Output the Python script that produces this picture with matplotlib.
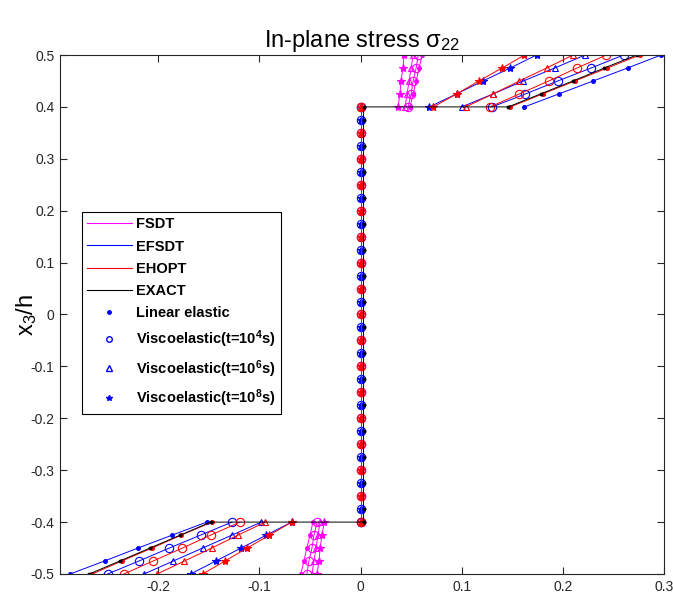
import matplotlib
matplotlib.use("Agg")
import matplotlib.pyplot as plt
from matplotlib.lines import Line2D

plt.rcParams['font.family'] = ['Liberation Sans', 'DejaVu Sans']
plt.rcParams['mathtext.fontset'] = 'custom'
plt.rcParams['mathtext.rm'] = 'Liberation Sans'
plt.rcParams['mathtext.it'] = 'Liberation Sans:italic'
plt.rcParams['mathtext.bf'] = 'Liberation Sans:bold'

# ---------------- data ----------------
case_labels = ['Linear elastic', r'Viscoelastic(t=10$\mathregular{^4}$s)',
               r'Viscoelastic(t=10$\mathregular{^6}$s)', r'Viscoelastic(t=10$\mathregular{^8}$s)']
theory_labels = ['FSDT', 'EFSDT', 'EHOPT', 'EXACT']
theory_colors = ['#FF00FF', '#0000FF', '#FF0000', '#000000']
case_markers = ['.', 'o', '^', '*']

# through-thickness positions
y_bot = [-0.5, -0.475, -0.45, -0.425, -0.4]
y_top = [0.4, 0.425, 0.45, 0.475, 0.5]
core_y_a = [-0.4, -0.35, -0.3, -0.25, -0.2, -0.15, -0.1, -0.05, 0.0,
            0.05, 0.1, 0.15, 0.2, 0.25, 0.3, 0.35, 0.4]
core_y_b = [-0.4, -0.375, -0.325, -0.275, -0.225, -0.175, -0.125, -0.075, -0.025,
            0.025, 0.075, 0.125, 0.175, 0.225, 0.275, 0.325, 0.375, 0.4]

# rows: linear elastic, t=1e4, t=1e6, t=1e8
fsdt_bot = [[-0.059, -0.056, -0.053, -0.050, -0.047],
            [-0.053, -0.051, -0.048, -0.046, -0.043],
            [-0.048, -0.046, -0.044, -0.042, -0.040],
            [-0.043, -0.041, -0.040, -0.038, -0.036]]
fsdt_top = [[0.049, 0.052, 0.055, 0.058, 0.061],
            [0.047, 0.050, 0.052, 0.055, 0.057],
            [0.044, 0.046, 0.048, 0.050, 0.052],
            [0.037, 0.039, 0.040, 0.042, 0.043]]
fsdt_core = [0.0, 0.0, 0.0, 0.0, 0.0, 0.0, 0.0, 0.0, 0.0,
             0.0, 0.0, 0.0, 0.0, 0.0, 0.0, 0.0, 0.0]

efsdt_bot = [[-0.287, -0.253, -0.220, -0.186, -0.152],
             [-0.250, -0.219, -0.189, -0.158, -0.127],
             [-0.214, -0.185, -0.156, -0.127, -0.098],
             [-0.168, -0.143, -0.118, -0.093, -0.068]]
efsdt_top = [[0.162, 0.196, 0.230, 0.264, 0.297],
             [0.130, 0.163, 0.195, 0.228, 0.260],
             [0.100, 0.131, 0.161, 0.192, 0.222],
             [0.068, 0.095, 0.121, 0.148, 0.174]]
efsdt_core = [0.0, 0.0, 0.0, 0.0, 0.0, 0.0, 0.0, 0.0, 0.0,
              0.0, 0.0, 0.0, 0.0, 0.0, 0.0, 0.0, 0.0, 0.0]

ehopt_bot = [[-0.265, -0.236, -0.206, -0.177, -0.147],
             [-0.234, -0.205, -0.176, -0.148, -0.119],
             [-0.201, -0.174, -0.147, -0.121, -0.094],
             [-0.156, -0.134, -0.112, -0.090, -0.068]]
ehopt_top = [[0.148, 0.180, 0.212, 0.244, 0.276],
             [0.128, 0.157, 0.186, 0.214, 0.243],
             [0.104, 0.131, 0.157, 0.184, 0.210],
             [0.072, 0.095, 0.117, 0.140, 0.162]]
ehopt_core = [0.0, 0.0, 0.0, 0.0, 0.0, 0.0, 0.0, 0.0, 0.0,
              0.0, 0.0, 0.0, 0.0, 0.0, 0.0, 0.0, 0.0]

exact_bot = [-0.268, -0.238, -0.208, -0.178, -0.148]
exact_top = [0.146, 0.178, 0.210, 0.241, 0.273]
exact_core = [0.003, 0.003, 0.003, 0.003, 0.003, 0.003, 0.003, 0.003, 0.003,
              0.003, 0.003, 0.003, 0.003, 0.003, 0.003, 0.003, 0.003, 0.003]

x_ticks = [-0.2, -0.1, 0.0, 0.1, 0.2, 0.3]
x_tick_labels = ['-0.2', '-0.1', '0', '0.1', '0.2', '0.3']
y_ticks = [-0.5, -0.4, -0.3, -0.2, -0.1, 0.0, 0.1, 0.2, 0.3, 0.4, 0.5]
y_tick_labels = ['-0.5', '-0.4', '-0.3', '-0.2', '-0.1', '0', '0.1', '0.2', '0.3', '0.4', '0.5']

# ---------------- plot ----------------
fig = plt.figure(figsize=(6.73, 5.94), dpi=100)
ax = fig.add_axes([0.0892, 0.0337, 0.8975, 0.8737])

marker_sizes = {'.': 5.5, 'o': 6, '^': 5, '*': 6}


def seg(xs, ys, color, marker, ms=None):
    filled = marker in ('.', '*')
    ax.plot(xs, ys, color=color, lw=0.7, marker=marker,
            ms=marker_sizes[marker] if ms is None else ms,
            mfc=color if filled else 'none', mec=color, mew=0.8)


def draw_layers(xb, xc, xt, yc, color, marker):
    seg(xb, y_bot, color, marker)
    seg(xc, yc, color, marker)
    seg(xt, y_top, color, marker)


for i in range(4):
    draw_layers(fsdt_bot[i], fsdt_core, fsdt_top[i], core_y_a, theory_colors[0], case_markers[i])
for i in range(4):
    draw_layers(efsdt_bot[i], efsdt_core, efsdt_top[i], core_y_b, theory_colors[1], case_markers[i])
for i in range(4):
    draw_layers(ehopt_bot[i], ehopt_core, ehopt_top[i], core_y_a, theory_colors[2], case_markers[i])
# exact solution drawn as one continuous curve
seg(list(exact_bot) + list(exact_core) + list(exact_top),
    list(y_bot) + list(core_y_b) + list(y_top), theory_colors[3], '.', ms=4)

ax.set_xlim(-0.297, 0.3)
ax.set_ylim(-0.5, 0.5)
ax.set_xticks(x_ticks)
ax.set_xticklabels(x_tick_labels)
ax.set_yticks(y_ticks)
ax.set_yticklabels(y_tick_labels)
axcol = '#262626'
ax.tick_params(direction='in', length=5, width=0.8, top=True, right=True,
               labelsize=10, colors=axcol, pad=4)
for s in ax.spines.values():
    s.set_color(axcol)
    s.set_linewidth(0.8)

ax.set_title(r'In-plane stress $\mathregular{\sigma_{22}}$', fontsize=17, pad=6)
ax.set_ylabel(r'x$\mathregular{_3}$/h', fontsize=17)
ax.yaxis.set_label_coords(-0.035, 0.5)

handles = []
for c, lab in zip(theory_colors, theory_labels):
    handles.append(Line2D([], [], color=c, lw=0.8))
for m in case_markers:
    handles.append(Line2D([], [], ls='none', marker=m, color='#0000FF',
                          ms=4 if m != '.' else 5, mfc='none' if m in ('o', '^') else '#0000FF'))
labels = theory_labels + case_labels
leg = ax.legend(handles, labels, loc='upper left', bbox_to_anchor=(0.036, 0.697),
                borderaxespad=0, fancybox=False, edgecolor='black', framealpha=1,
                prop={'weight': 'bold', 'size': 10.5}, handlelength=3.1,
                handletextpad=0.3, labelspacing=0.56, borderpad=0.35, numpoints=1)
leg.get_frame().set_linewidth(0.8)

fig.savefig('out.png', dpi=100)
